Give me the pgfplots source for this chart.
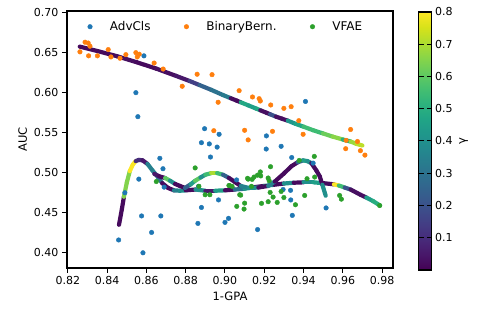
\documentclass[border=0pt]{standalone}
\usepackage{pgfplots}
\pgfplotsset{compat=1.18}
\usepackage{fontspec}
\setmainfont{DejaVu Sans}

\definecolor{tabblue}{HTML}{1F77B4}
\definecolor{taborange}{HTML}{FF7F0E}
\definecolor{tabgreen}{HTML}{2CA02C}

% fitted curves: x, AUC, gamma
\pgfplotstableread{
x y m
0.826 0.6575 0.02
0.835 0.652 0.02
0.845 0.6455 0.03
0.855 0.638 0.02
0.865 0.630 0.03
0.875 0.621 0.05
0.882 0.6145 0.15
0.887 0.6095 0.25
0.893 0.6035 0.30
0.899 0.597 0.33
0.903 0.593 0.02
0.906 0.590 0.02
0.908 0.588 0.48
0.912 0.584 0.45
0.916 0.580 0.48
0.918 0.578 0.03
0.921 0.575 0.03
0.923 0.573 0.20
0.926 0.570 0.03
0.929 0.5675 0.03
0.932 0.565 0.42
0.936 0.561 0.47
0.940 0.5575 0.55
0.945 0.553 0.55
0.950 0.549 0.62
0.955 0.545 0.66
0.960 0.5415 0.50
0.964 0.539 0.68
0.967 0.536 0.72
0.970 0.534 0.80
}\fitbern

\pgfplotstableread{
x y m
0.8460 0.435 0.02
0.8475 0.455 0.02
0.8485 0.470 0.65
0.8500 0.488 0.65
0.8515 0.502 0.80
0.8530 0.510 0.80
0.8545 0.5145 0.10
0.8560 0.516 0.10
0.8580 0.5155 0.05
0.8605 0.511 0.35
0.8630 0.503 0.35
0.8660 0.494 0.30
0.8680 0.487 0.02
0.8710 0.481 0.02
0.8740 0.478 0.35
0.8770 0.4775 0.40
0.8800 0.478 0.02
0.8850 0.479 0.40
0.8900 0.4775 0.05
0.8950 0.4775 0.45
0.9000 0.478 0.02
0.9050 0.479 0.30
0.9100 0.480 0.45
0.9150 0.482 0.02
0.9200 0.4835 0.40
0.9250 0.485 0.02
0.9300 0.4865 0.40
0.9350 0.4875 0.02
0.9400 0.488 0.40
0.9450 0.488 0.45
0.9500 0.487 0.02
0.9555 0.4855 0.80
0.9580 0.484 0.55
0.9610 0.4815 0.20
0.9640 0.479 0.03
0.9690 0.4725 0.03
0.9720 0.469 0.45
0.9755 0.4645 0.50
0.9790 0.459 0.50
}\fitadv

\pgfplotstableread{
x y m
0.8640 0.4985 0.05
0.8665 0.4955 0.02
0.8695 0.4934 0.60
0.8720 0.490 0.40
0.8746 0.486 0.02
0.8770 0.4835 0.02
0.8796 0.481 0.25
0.8825 0.4855 0.45
0.8848 0.490 0.60
0.8875 0.494 0.40
0.8900 0.4975 0.55
0.8930 0.4995 0.70
0.8960 0.4995 0.55
0.8990 0.4975 0.25
0.9020 0.4935 0.02
0.9050 0.4885 0.02
0.9080 0.4835 0.35
0.9120 0.481 0.40
0.9170 0.4815 0.02
0.9220 0.4835 0.35
0.9254 0.489 0.02
0.9300 0.499 0.02
0.9338 0.508 0.02
0.9370 0.513 0.25
0.9398 0.5154 0.45
0.9420 0.5145 0.40
0.9440 0.512 0.02
0.9465 0.503 0.02
0.9483 0.4954 0.02
0.9496 0.485 0.40
0.9513 0.4713 0.45
}\fitvfae

\begin{document}
\begin{tikzpicture}
\begin{axis}[
    at={(0,0)}, anchor=south west,
    scale only axis,
    width=326pt, height=257pt,
    xmin=0.8195, xmax=0.9856,
    ymin=0.381, ymax=0.702,
    xtick={0.82,0.84,0.86,0.88,0.90,0.92,0.94,0.96,0.98},
    ytick={0.40,0.45,0.50,0.55,0.60,0.65,0.70},
    scaled ticks=false,
    xticklabel style={/pgf/number format/.cd, fixed, fixed zerofill, precision=2},
    yticklabel style={/pgf/number format/.cd, fixed, fixed zerofill, precision=2},
    /pgf/number format/assume math mode=true,
    tick label style={font=\fontsize{11}{13}\selectfont},
    label style={font=\fontsize{11.5}{13}\selectfont},
    xlabel={1-GPA}, ylabel={AUC},
    tick align=outside, tick pos=left,
    major tick length=5pt,
    every tick/.style={black, line width=1pt},
    axis line style={line width=1.3pt},
    colormap name=viridis,
    point meta min=0, point meta max=0.8,
    colorbar,
    colorbar style={
        at={(parent axis.north east)}, anchor=north west,
        xshift=17pt, yshift=-1pt,
        width=13pt, height=258pt,
        ytick={0.1,0.2,0.3,0.4,0.5,0.6,0.7,0.8},
        yticklabel style={/pgf/number format/.cd, fixed, fixed zerofill, precision=1},
        /pgf/number format/assume math mode=true,
        tick label style={font=\fontsize{11}{13}\selectfont},
        major tick length=5pt,
        every tick/.style={black, line width=1pt},
        axis line style={line width=1.3pt},
        ylabel={γ},
        ylabel style={font=\fontsize{11.5}{13}\selectfont},
    },
    legend style={at={(axis description cs:0.052,0.968)}, anchor=north west,
        draw=none, fill=none, inner sep=0pt,
        legend columns=3,
        font=\fontsize{12}{14}\selectfont,
        /tikz/every even column/.append style={column sep=28pt}},
    mylegend/.style={legend image code/.code={%
        \path (-0.2cm,0cm) (0.62cm,0cm);
        \draw[##1] plot coordinates {(0cm,0cm)};}},
]
\addplot[only marks, mark=*, mark size=2.3pt, color=tabblue, point meta=none, mylegend] coordinates {
(0.8587,0.646) (0.8546,0.600) (0.8556,0.570) (0.8896,0.555) (0.8970,0.548)
(0.8880,0.5375) (0.8920,0.536) (0.8960,0.532) (0.8926,0.5196) (0.8668,0.518)
(0.8684,0.505) (0.8561,0.492) (0.8490,0.475) (0.8690,0.482) (0.8865,0.483)
(0.8967,0.466) (0.8880,0.4566) (0.8575,0.446) (0.8673,0.446) (0.8862,0.4367)
(0.9000,0.438) (0.9018,0.443) (0.8626,0.4254) (0.8458,0.416) (0.8582,0.400)
(0.9410,0.589) (0.9211,0.546) (0.9210,0.5296) (0.9286,0.533) (0.9340,0.519)
(0.9449,0.512) (0.9059,0.491) (0.9334,0.478) (0.9335,0.466) (0.9343,0.4467)
(0.9515,0.456) (0.9166,0.429) (0.9296,0.479)
};
\addlegendentry{AdvCls}
\addplot[only marks, mark=*, mark size=2.3pt, color=taborange, point meta=none, mylegend] coordinates {
(0.8261,0.651) (0.8287,0.663) (0.8303,0.662) (0.8312,0.658) (0.8305,0.646)
(0.8350,0.646) (0.8405,0.6538) (0.8419,0.6446) (0.8465,0.643) (0.8495,0.6475)
(0.8546,0.650) (0.8563,0.648) (0.8553,0.6446) (0.8639,0.637) (0.8685,0.6295)
(0.8782,0.608) (0.8858,0.623) (0.8934,0.6225) (0.8965,0.588) (0.8943,0.5525)
(0.9100,0.553) (0.9118,0.541) (0.9072,0.6025) (0.9140,0.5946) (0.9174,0.5925)
(0.9180,0.5896) (0.9233,0.5846) (0.9300,0.5804) (0.9337,0.5825) (0.9376,0.565)
(0.9242,0.5517) (0.9398,0.548) (0.9640,0.554) (0.9617,0.5404) (0.9615,0.530)
(0.9675,0.539) (0.9690,0.5275) (0.9713,0.522)
};
\addlegendentry{BinaryBern.}
\addplot[only marks, mark=*, mark size=2.3pt, color=tabgreen, point meta=none, mylegend] coordinates {
(0.8848,0.506) (0.8650,0.489) (0.8899,0.4725) (0.8923,0.4725) (0.9020,0.484)
(0.8867,0.483) (0.9455,0.5204) (0.9232,0.5075) (0.9180,0.501) (0.9166,0.497)
(0.9182,0.496) (0.9148,0.4946) (0.9115,0.493) (0.9138,0.4917) (0.9220,0.4934)
(0.9225,0.490) (0.9418,0.4925) (0.9457,0.4946) (0.9023,0.484) (0.9036,0.483)
(0.9080,0.472) (0.9135,0.483) (0.9230,0.4754) (0.9286,0.4766) (0.9245,0.4696)
(0.9300,0.469) (0.9406,0.4716) (0.9584,0.4716) (0.9593,0.467) (0.9060,0.458)
(0.9100,0.462) (0.9097,0.4546) (0.9186,0.4617) (0.9220,0.4638) (0.9266,0.4629)
(0.9359,0.460) (0.9788,0.459) (0.9378,0.5153) (0.9075,0.4725) (0.9118,0.492)
};
\addlegendentry{VFAE}
\addplot[mesh, shader=flat corner, line width=4.2pt, line cap=round, point meta=explicit, forget plot] table[meta=m] {\fitbern};
\addplot[mesh, shader=flat corner, line width=4.2pt, line cap=round, point meta=explicit, forget plot] table[meta=m] {\fitadv};
\addplot[mesh, shader=flat corner, line width=4.2pt, line cap=round, point meta=explicit, forget plot] table[meta=m] {\fitvfae};
\end{axis}
\pgfresetboundingbox
\path[use as bounding box] (-67pt,-55pt) rectangle (418pt,268pt);
\end{tikzpicture}
\end{document}
